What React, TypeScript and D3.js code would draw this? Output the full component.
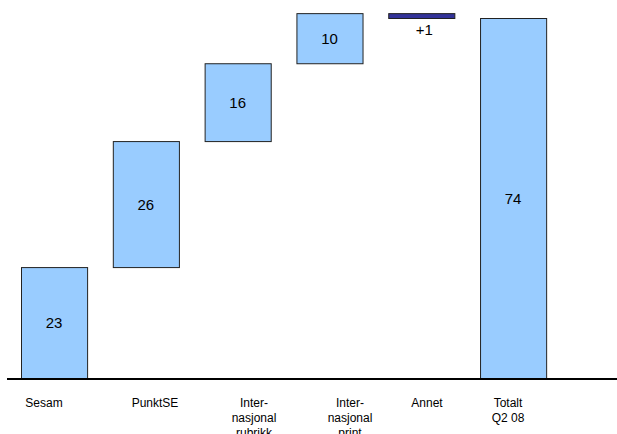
import React from "react";
import * as d3 from "d3";

const categories = ["Sesam", "PunktSE", "Inter-\nnasjonal\nrubrikk", "Inter-\nnasjonal\nprint", "Annet", "Totalt\nQ2 08"];
const valueLabels = ["23", "26", "16", "10", "+1", "74"];
const barStart = [0, 22.8, 48.7, 64.7, 75, 0];
const barEnd = [22.8, 48.7, 64.7, 75, 74, 74];
const barKind = ["step", "step", "step", "step", "other", "total"];

const W = 617;
const H = 434;
const BASE_Y = 378;
const TOP_Y = 18;
const labelX = [44, 155, 254, 350, 427, 508];

export default function App() {
  const x = d3
    .scaleBand<number>()
    .domain(d3.range(categories.length))
    .range([8.15, 559])
    .paddingInner(0.28)
    .paddingOuter(0.14);
  const y = d3.scaleLinear().domain([0, 74]).range([BASE_Y, TOP_Y]);

  return (
    <svg
      width={W}
      height={H}
      style={{ position: "absolute", left: 0, top: 0, fontFamily: "'Liberation Sans', Arial, sans-serif" }}
    >
      <rect width={W} height={H} fill="#fff" />
      {categories.map((c, i) => {
        const x0 = x(i)!;
        const bw = x.bandwidth();
        const yTop = y(Math.max(barStart[i], barEnd[i]));
        const yBot = y(Math.min(barStart[i], barEnd[i]));
        const other = barKind[i] === "other";
        return (
          <g key={i}>
            <rect
              x={x0 + 0.5}
              y={yTop + 0.5}
              width={bw}
              height={yBot - yTop}
              fill={other ? "#333399" : "#99CCFF"}
              stroke="#222"
              strokeWidth={1}
            />
            <text
              x={x0 + bw / 2 + (other ? 3 : 0)}
              y={other ? yBot + 17 : (yTop + yBot) / 2 + 5.5}
              textAnchor="middle"
              fontSize={15}
              fill="#000"
            >
              {valueLabels[i]}
            </text>
          </g>
        );
      })}
      <line x1={7} x2={W} y1={379} y2={379} stroke="#000" strokeWidth={2} />
      {categories.map((c, i) => (
        <text key={"l" + i} x={labelX[i]} y={407} textAnchor="middle" fontSize={12} fill="#000">
          {c.split("\n").map((ln, j) => (
            <tspan key={j} x={labelX[i]} dy={j === 0 ? 0 : 15}>
              {ln}
            </tspan>
          ))}
        </text>
      ))}
    </svg>
  );
}
